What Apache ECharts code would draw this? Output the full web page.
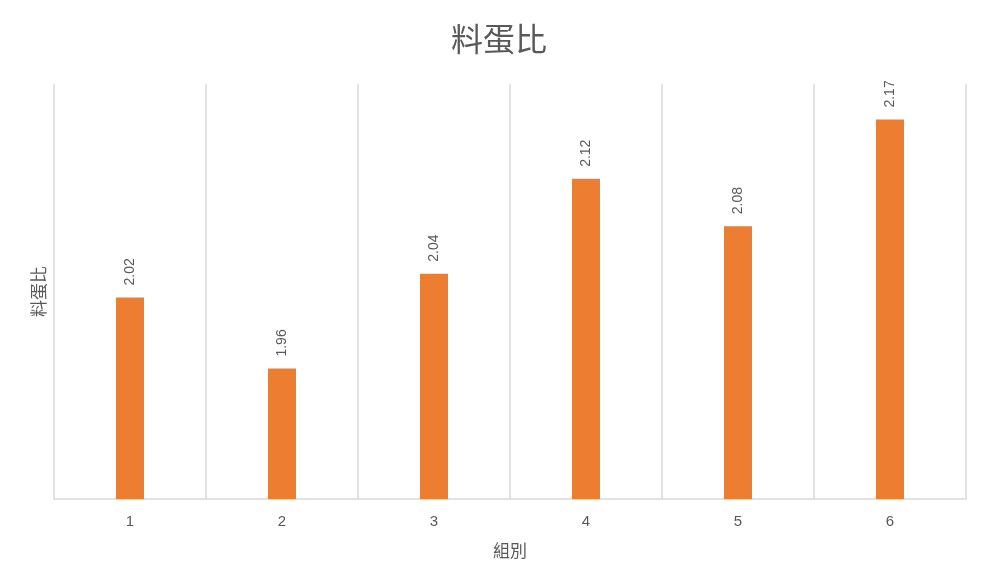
<!DOCTYPE html>
<html>
<head>
<meta charset="utf-8">
<script src="https://cdn.jsdelivr.net/npm/echarts@6/dist/echarts.min.js"></script>
<style>
html,body{margin:0;padding:0;background:#fff;}
#chart{width:990px;height:587px;}
</style>
</head>
<body>
<div id="chart"></div>
<script>
var categories = ['1', '2', '3', '4', '5', '6'];
var ratioValues = [2.02, 1.96, 2.04, 2.12, 2.08, 2.17];
var chartTitle = '料蛋比';
var xName = '組別';
var yName = '料蛋比';

var chart = echarts.init(document.getElementById('chart'));
var sans = '"Liberation Sans", "Noto Sans CJK TC", sans-serif';
chart.setOption({
  backgroundColor: '#ffffff',
  animation: false,
  title: {
    text: chartTitle,
    left: 494,
    textAlign: 'center',
    top: 18,
    textStyle: { fontSize: 32, fontWeight: 'normal', color: '#595959', fontFamily: '"Noto Sans CJK TC", serif' }
  },
  grid: { left: 54, right: 24, top: 84, bottom: 88 },
  xAxis: {
    type: 'category',
    data: categories,
    name: xName,
    nameLocation: 'middle',
    nameGap: 43,
    nameTextStyle: { fontSize: 17, color: '#595959', fontFamily: '"Noto Sans CJK TC", sans-serif' },
    axisTick: { show: false },
    axisLine: { lineStyle: { color: '#d9d9d9', width: 1.5 } },
    axisLabel: { fontSize: 15, color: '#595959', margin: 15, fontFamily: sans },
    splitLine: { show: true, lineStyle: { color: '#d9d9d9', width: 1.5 } }
  },
  yAxis: {
    type: 'value',
    min: 1.85,
    max: 2.2,
    name: yName,
    nameLocation: 'middle',
    nameRotate: 90,
    nameGap: 7,
    nameTextStyle: { fontSize: 17, color: '#595959', fontFamily: '"Noto Sans CJK TC", sans-serif' },
    axisLabel: { show: false },
    axisLine: { show: false },
    axisTick: { show: false },
    splitLine: { show: false }
  },
  series: [{
    type: 'bar',
    data: ratioValues,
    barWidth: 28,
    itemStyle: { color: '#ED7D31' },
    label: {
      show: true,
      position: 'top',
      rotate: 90,
      align: 'left',
      verticalAlign: 'middle',
      distance: 12,
      fontSize: 14,
      color: '#595959',
      fontFamily: sans
    }
  }]
});
</script>
</body>
</html>
